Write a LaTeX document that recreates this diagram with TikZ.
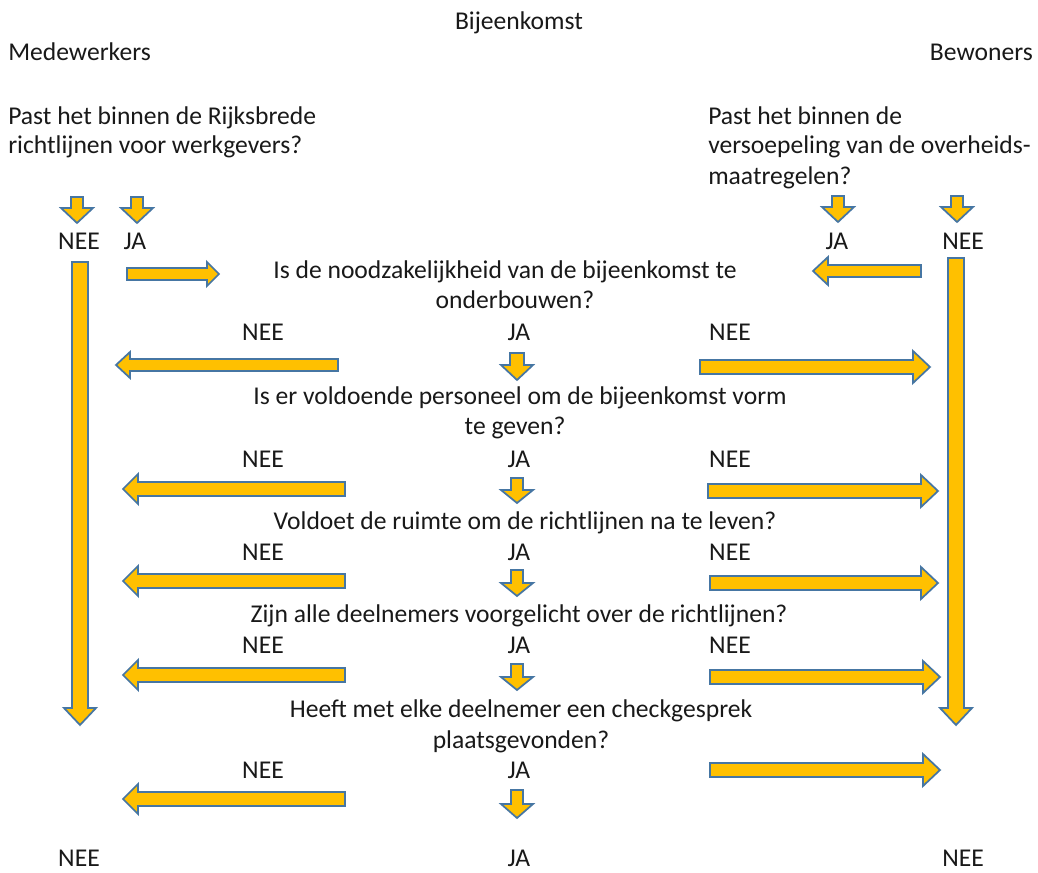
\documentclass[tikz,border=0pt]{standalone}
\usepackage{fontspec}
\setmainfont{Carlito}
\definecolor{arrfill}{RGB}{255,192,0}
\definecolor{arrline}{RGB}{70,118,163}
\definecolor{txt}{RGB}{25,25,25}
\tikzset{
  blockarrow/.style={fill=arrfill, draw=arrline, line width=1.3pt, line join=miter},
  lbl/.style={inner sep=0pt, anchor=base, text=txt, font=\fontsize{19.2}{23}\selectfont},
  lblw/.style={lbl, anchor=base west},
  lble/.style={lbl, anchor=base east}
}
% horizontal block arrow: tail x, tip x, y, shaft half, head half, signed head length
\newcommand\harr[6]{%
  \draw[blockarrow] ({#1},{#3-#4}) -- ({#2-(#6)},{#3-#4}) -- ({#2-(#6)},{#3-#5}) -- ({#2},{#3})
    -- ({#2-(#6)},{#3+#5}) -- ({#2-(#6)},{#3+#4}) -- ({#1},{#3+#4}) -- cycle;}
% vertical (down) block arrow: x, tail y, tip y, shaft half, head half, head length
\newcommand\varr[6]{%
  \draw[blockarrow] ({#1-#4},{#2}) -- ({#1-#4},{#3-#6}) -- ({#1-#5},{#3-#6}) -- ({#1},{#3})
    -- ({#1+#5},{#3-#6}) -- ({#1+#4},{#3-#6}) -- ({#1+#4},{#2}) -- cycle;}
\begin{document}
\begin{tikzpicture}[x=0.75pt,y=-0.75pt]
\useasboundingbox (0,0) rectangle (1038,873);
\fill[white] (0,0) rectangle (1038,873);

% headings
\node[lbl]  (title) at (519,30) {Bijeenkomst};
\node[lblw] (medew) at (8,61) {Medewerkers};
\node[lble] (bewon) at (1033,61) {Bewoners};

% starting questions
\node[lblw] (lq1) at (8,125) {Past het binnen de Rijksbrede};
\node[lblw] (lq2) at (8,154) {richtlijnen voor werkgevers?};
\node[lblw] (rq1) at (708,125) {Past het binnen de};
\node[lblw] (rq2) at (708,154) {versoepeling van de overheids-};
\node[lblw] (rq3) at (708,185) {maatregelen?};

% top small arrows
\varr{77}{197}{223}{6}{16}{15}
\varr{137}{197}{223}{6}{16}{15}
\varr{838}{196}{222}{6}{16}{15}
\varr{957}{196}{222}{6}{16}{15}

\node[lbl] (tnl) at (79,250) {NEE};
\node[lbl] (tjl) at (135,250) {JA};
\node[lbl] (tjr) at (837,250) {JA};
\node[lbl] (tnr) at (963,250) {NEE};

% long side arrows
\varr{80}{262}{725}{8}{16}{17}
\varr{956}{258}{725}{8}{16}{17}

% row 1
\harr{127}{219}{274}{6}{12}{12}
\harr{921}{813}{271}{6}{14}{-15}
\node[lbl] (q1a) at (505,279) {Is de noodzakelijkheid van de bijeenkomst te};
\node[lbl] (q1b) at (515,309) {onderbouwen?};

% row 2
\node[lbl] (n2l) at (263,341) {NEE};
\node[lbl] (j2)  at (519,341) {JA};
\node[lbl] (n2r) at (730,341) {NEE};
\harr{338}{116}{365}{6}{13}{-14}
\harr{700}{930}{367}{7}{16}{17}
\varr{517}{353}{380}{7}{16}{15}
\node[lbl] (q2a) at (520,404) {Is er voldoende personeel om de bijeenkomst vorm};
\node[lbl] (q2b) at (515,434) {te geven?};

% row 3
\node[lbl] (n3l) at (263,467) {NEE};
\node[lbl] (j3)  at (519,467) {JA};
\node[lbl] (n3r) at (730,467) {NEE};
\harr{345}{123}{489}{7}{15}{-15}
\harr{708}{938}{491}{7}{16}{17}
\varr{517}{478}{503}{6}{16}{13}
\node[lbl] (q3) at (525,529) {Voldoet de ruimte om de richtlijnen na te leven?};

% row 4
\node[lbl] (n4l) at (263,560) {NEE};
\node[lbl] (j4)  at (519,560) {JA};
\node[lbl] (n4r) at (730,560) {NEE};
\harr{345}{123}{581}{7}{15}{-15}
\harr{710}{938}{583}{7}{16}{17}
\varr{517}{570}{596}{6}{16}{13}
\node[lbl] (q4) at (519,622) {Zijn alle deelnemers voorgelicht over de richtlijnen?};

% row 5
\node[lbl] (n5l) at (263,653) {NEE};
\node[lbl] (j5)  at (519,653) {JA};
\node[lbl] (n5r) at (730,653) {NEE};
\harr{345}{123}{675}{7}{15}{-15}
\harr{710}{940}{677}{7}{16}{17}
\varr{517}{664}{690}{6}{16}{13}
\node[lbl] (q5a) at (521,717) {Heeft met elke deelnemer een checkgesprek};
\node[lbl] (q5b) at (521,748) {plaatsgevonden?};

% row 6
\node[lbl] (n6l) at (263,778) {NEE};
\node[lbl] (j6)  at (519,778) {JA};
\harr{345}{123}{799}{7}{15}{-15}
\harr{710}{940}{770}{7}{16}{17}
\varr{517}{790}{818}{6}{16}{14}

% bottom outcomes
\node[lbl] (bnl) at (79,866) {NEE};
\node[lbl] (bj)  at (519,866) {JA};
\node[lbl] (bnr) at (963,866) {NEE};
\end{tikzpicture}
\end{document}
